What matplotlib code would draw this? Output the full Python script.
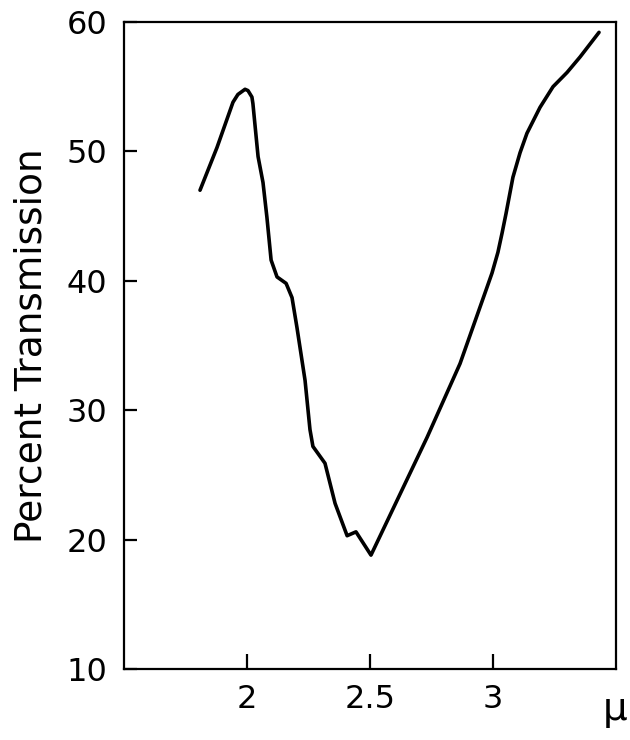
import matplotlib
matplotlib.use("Agg")
import matplotlib.pyplot as plt

# wavelength (micron) and percent transmission
wavelength = [1.809, 1.878, 1.943, 1.963, 1.992, 2.004, 2.020, 2.024, 2.045, 2.065,
              2.081, 2.098, 2.122, 2.159, 2.183, 2.203, 2.236, 2.256, 2.268, 2.317,
              2.358, 2.407, 2.443, 2.504, 2.732, 2.866, 2.972, 2.996, 3.020, 3.037,
              3.053, 3.069, 3.081, 3.110, 3.138, 3.191, 3.244, 3.301, 3.354, 3.431]
transmission = [47.0, 50.3, 53.8, 54.4, 54.8, 54.7, 54.2, 53.7, 49.6, 47.6,
                44.9, 41.6, 40.3, 39.8, 38.7, 36.4, 32.3, 28.5, 27.2, 25.9,
                22.8, 20.3, 20.6, 18.8, 27.9, 33.6, 39.3, 40.6, 42.2, 43.7,
                45.2, 46.8, 48.0, 49.9, 51.4, 53.4, 55.0, 56.1, 57.3, 59.2]

xticks = [2, 2.5, 3]
xticklabels = ["2", "2.5", "3"]
yticks = [10, 20, 30, 40, 50, 60]
yticklabels = ["10", "20", "30", "40", "50", "60"]

fig = plt.figure(figsize=(6.3, 7.4), dpi=100)
ax = fig.add_axes([124/630, 1-669/740, (616-124)/630, (669-22)/740])

ax.plot(wavelength, transmission, color="black", lw=2.6, solid_joinstyle="round",
        solid_capstyle="round")

ax.set_xlim(1.5, 3.5)
ax.set_ylim(10, 60)
ax.set_xticks(xticks)
ax.set_xticklabels(xticklabels)
ax.set_yticks(yticks)
ax.set_yticklabels(yticklabels)

ax.tick_params(axis="both", direction="in", width=1.6, labelsize=23, color="black")
ax.tick_params(axis="y", length=9, pad=12)
ax.tick_params(axis="x", length=11, pad=11)
for s in ax.spines.values():
    s.set_linewidth(1.6)

ax.set_ylabel("Percent Transmission", fontsize=27, labelpad=12)
fig.text(627/630, 1-690/740, "μ", fontsize=28, ha="right", va="top")

fig.savefig("out.png", dpi=100)
